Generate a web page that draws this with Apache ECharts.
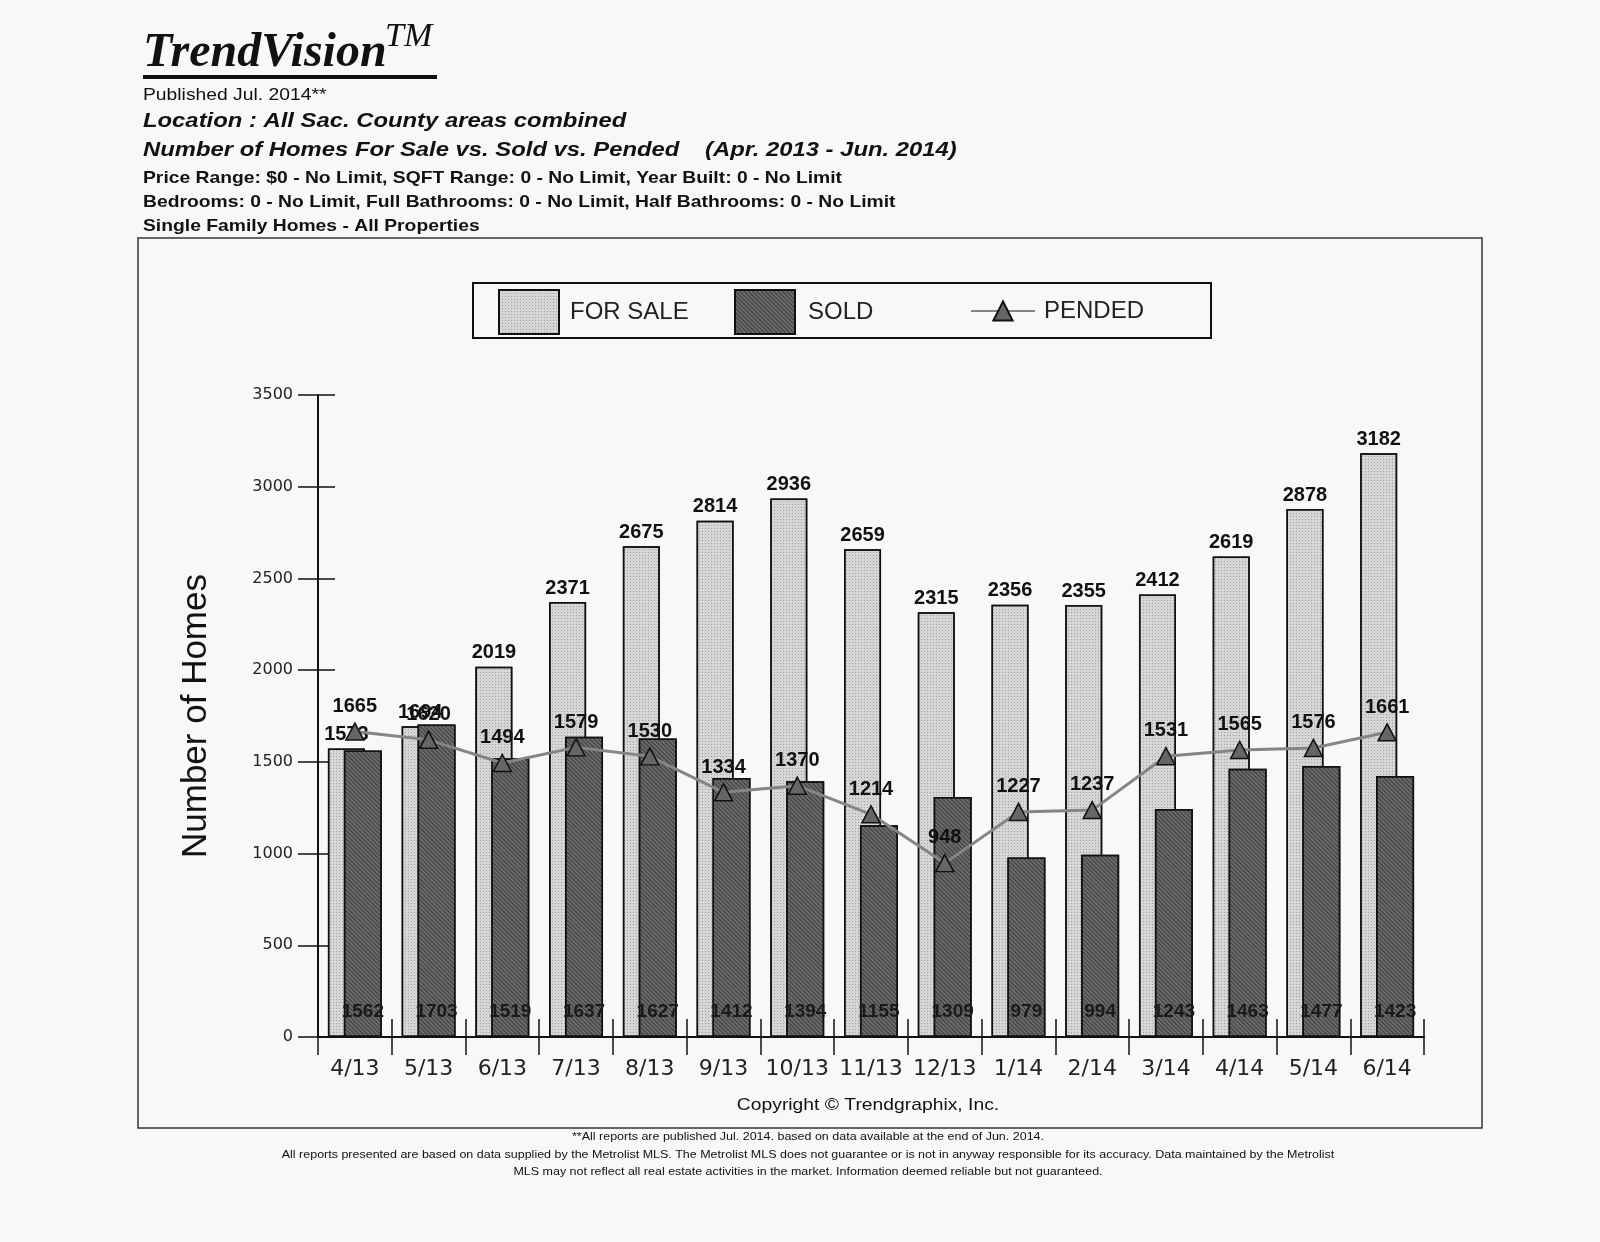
<!DOCTYPE html>
<html>
<head>
<meta charset="utf-8">
<script src="https://cdn.jsdelivr.net/npm/echarts@6/dist/echarts.min.js"></script>
<style>
html,body{margin:0;padding:0;background:#f8f8f8;}
#chart{width:1600px;height:1242px;}
</style>
</head>
<body>
<div id="chart"></div>
<script>
const categories = ['4/13','5/13','6/13','7/13','8/13','9/13','10/13','11/13','12/13','1/14','2/14','3/14','4/14','5/14','6/14'];
const forSale = [1573,1694,2019,2371,2675,2814,2936,2659,2315,2356,2355,2412,2619,2878,3182];
const sold = [1562,1703,1519,1637,1627,1412,1394,1155,1309,979,994,1243,1463,1477,1423];
const pended = [1665,1620,1494,1579,1530,1334,1370,1214,948,1227,1237,1531,1565,1576,1661];
const yMin = 0, yMax = 3500, yInterval = 500;

const SANS = 'Liberation Sans, Arial, sans-serif';
const WIDE = 'DejaVu Sans, Liberation Sans, sans-serif';
const SERIF = 'Liberation Serif, Times New Roman, serif';
const SX = 1.135;

const chart = echarts.init(document.getElementById('chart'), null, {renderer:'canvas'});

const forSaleStyle = {
  color: '#d6d6d6',
  borderColor: '#111',
  borderWidth: 1.5,
  decal: {symbol:'rect', symbolSize:1, dashArrayX:[[1,2]], dashArrayY:[1,2], color:'rgba(90,90,90,0.45)'}
};
const soldStyle = {
  color: '#6b6b6b',
  borderColor: '#111',
  borderWidth: 1.5,
  decal: {symbol:'rect', symbolSize:1, dashArrayX:[[1,0]], dashArrayY:[1,2], rotation: Math.PI/4, color:'rgba(30,30,30,0.6)'}
};

function txt(x, y, text, font, extra) {
  return Object.assign({type:'text', x:x, y:y, scaleX:SX,
    style:Object.assign({text:text, font:font, fill:'#111', verticalAlign:'middle'}, extra || {})});
}

const option = {
  backgroundColor: '#f8f8f8',
  animation: false,
  grid: {left: 318, top: 395, width: 1106, height: 642, containLabel: false},
  legend: [
    {data:[{name:'FOR SALE', icon:'rect'}], left: 498, top: 289, padding:0, itemWidth: 60, itemHeight: 44,
     textStyle:{fontFamily:SANS, fontSize:24, color:'#222', padding:[0,0,0,6]}},
    {data:[{name:'SOLD', icon:'rect'}], left: 734, top: 289, padding:0, itemWidth: 60, itemHeight: 44,
     textStyle:{fontFamily:SANS, fontSize:24, color:'#222', padding:[0,0,0,8]}},
    {data:['PENDED'], left: 970, top: 299, padding:0, itemWidth: 64, itemHeight: 24,
     textStyle:{fontFamily:SANS, fontSize:24, color:'#222', padding:[0,0,0,4]}}
  ],
  xAxis: [
    {type:'category', data: categories, position:'bottom',
     axisLine:{show:true, lineStyle:{color:'#111', width:2}},
     axisTick:{show:true, inside:false, length:18, lineStyle:{color:'#111', width:1.5}},
     axisLabel:{fontFamily:WIDE, fontSize:22, color:'#222', margin:21, interval:0},
     splitLine:{show:false}},
    {type:'category', data: categories, position:'bottom',
     axisLine:{show:false},
     axisTick:{show:true, inside:true, length:18, lineStyle:{color:'#111', width:1.5}},
     axisLabel:{show:false}, splitLine:{show:false}}
  ],
  yAxis: [
    {type:'value', min:yMin, max:yMax, interval:yInterval, position:'left',
     name:'Number of Homes', nameLocation:'middle', nameRotate:90, nameGap:104,
     nameTextStyle:{fontFamily:SANS, fontSize:35, color:'#111'},
     axisLine:{show:true, lineStyle:{color:'#111', width:2}},
     axisTick:{show:true, inside:false, length:20, lineStyle:{color:'#111', width:1.5}},
     axisLabel:{fontFamily:WIDE, fontSize:16, color:'#222', margin:25, formatter: v => String(v)},
     splitLine:{show:false}},
    {type:'value', min:yMin, max:yMax, interval:yInterval, position:'left',
     axisLine:{show:false},
     axisTick:{show:true, inside:true, length:17, lineStyle:{color:'#111', width:1.5}},
     axisLabel:{show:false}, splitLine:{show:false}}
  ],
  series: [
    {name:'FOR SALE', type:'bar', data: forSale, barWidth:37, barGap:'-57%',
     itemStyle: forSaleStyle,
     label:{show:true, position:'top', distance:4, fontFamily:SANS, fontWeight:'bold', fontSize:20, color:'#111'}},
    {name:'SOLD', type:'bar', data: sold, barWidth:38,
     itemStyle: soldStyle,
     label:{show:true, position:'insideBottom', distance:16, fontFamily:SANS, fontWeight:'bold', fontSize:19, color:'#1a1a1a'}},
    {name:'PENDED', type:'line', data: pended, z:5,
     symbol:'triangle', symbolSize:[18,17],
     lineStyle:{color:'#858585', width:3},
     itemStyle:{color:'#666', borderColor:'#111', borderWidth:1.5},
     label:{show:true, position:'top', distance:6, fontFamily:SANS, fontWeight:'bold', fontSize:20, color:'#111'}}
  ],
  graphic: [
    {type:'rect', shape:{x:138, y:238, width:1344, height:890}, style:{fill:'none', stroke:'#333', lineWidth:1.5}, z:-1},
    {type:'rect', shape:{x:473, y:283, width:738, height:55}, style:{fill:'none', stroke:'#111', lineWidth:2}, z:-1},
    {type:'text', x:143, y:54, style:{text:'TrendVision', font:'italic bold 48px '+SERIF, fill:'#111', verticalAlign:'middle'}},
    {type:'text', x:385, y:37, style:{text:'TM', font:'italic 34px '+SERIF, fill:'#111', verticalAlign:'middle'}},
    {type:'rect', shape:{x:143, y:75, width:294, height:4}, style:{fill:'#111'}},
    txt(143, 95, 'Published Jul. 2014**', '17px '+SANS),
    txt(143, 121, 'Location : All Sac. County areas combined', 'italic bold 21px '+SANS),
    txt(143, 150, 'Number of Homes For Sale vs. Sold vs. Pended', 'italic bold 21px '+SANS),
    txt(705, 150, '(Apr. 2013 - Jun. 2014)', 'italic bold 21px '+SANS),
    txt(143, 178, 'Price Range: $0 - No Limit, SQFT Range: 0 - No Limit, Year Built: 0 - No Limit', 'bold 17px '+SANS),
    txt(143, 202, 'Bedrooms: 0 - No Limit, Full Bathrooms: 0 - No Limit, Half Bathrooms: 0 - No Limit', 'bold 17px '+SANS),
    txt(143, 226, 'Single Family Homes - All Properties', 'bold 17px '+SANS),
    txt(868, 1105, 'Copyright © Trendgraphix, Inc.', '17px '+SANS, {align:'center'}),
    txt(808, 1137, '**All reports are published Jul. 2014. based on data available at the end of Jun. 2014.', '11px '+SANS, {align:'center'}),
    txt(808, 1155, 'All reports presented are based on data supplied by the Metrolist MLS. The Metrolist MLS does not guarantee or is not in anyway responsible for its accuracy. Data maintained by the Metrolist', '11px '+SANS, {align:'center'}),
    txt(808, 1172, 'MLS may not reflect all real estate activities in the market. Information deemed reliable but not guaranteed.', '11px '+SANS, {align:'center'})
  ]
};
chart.setOption(option);
</script>
</body>
</html>
